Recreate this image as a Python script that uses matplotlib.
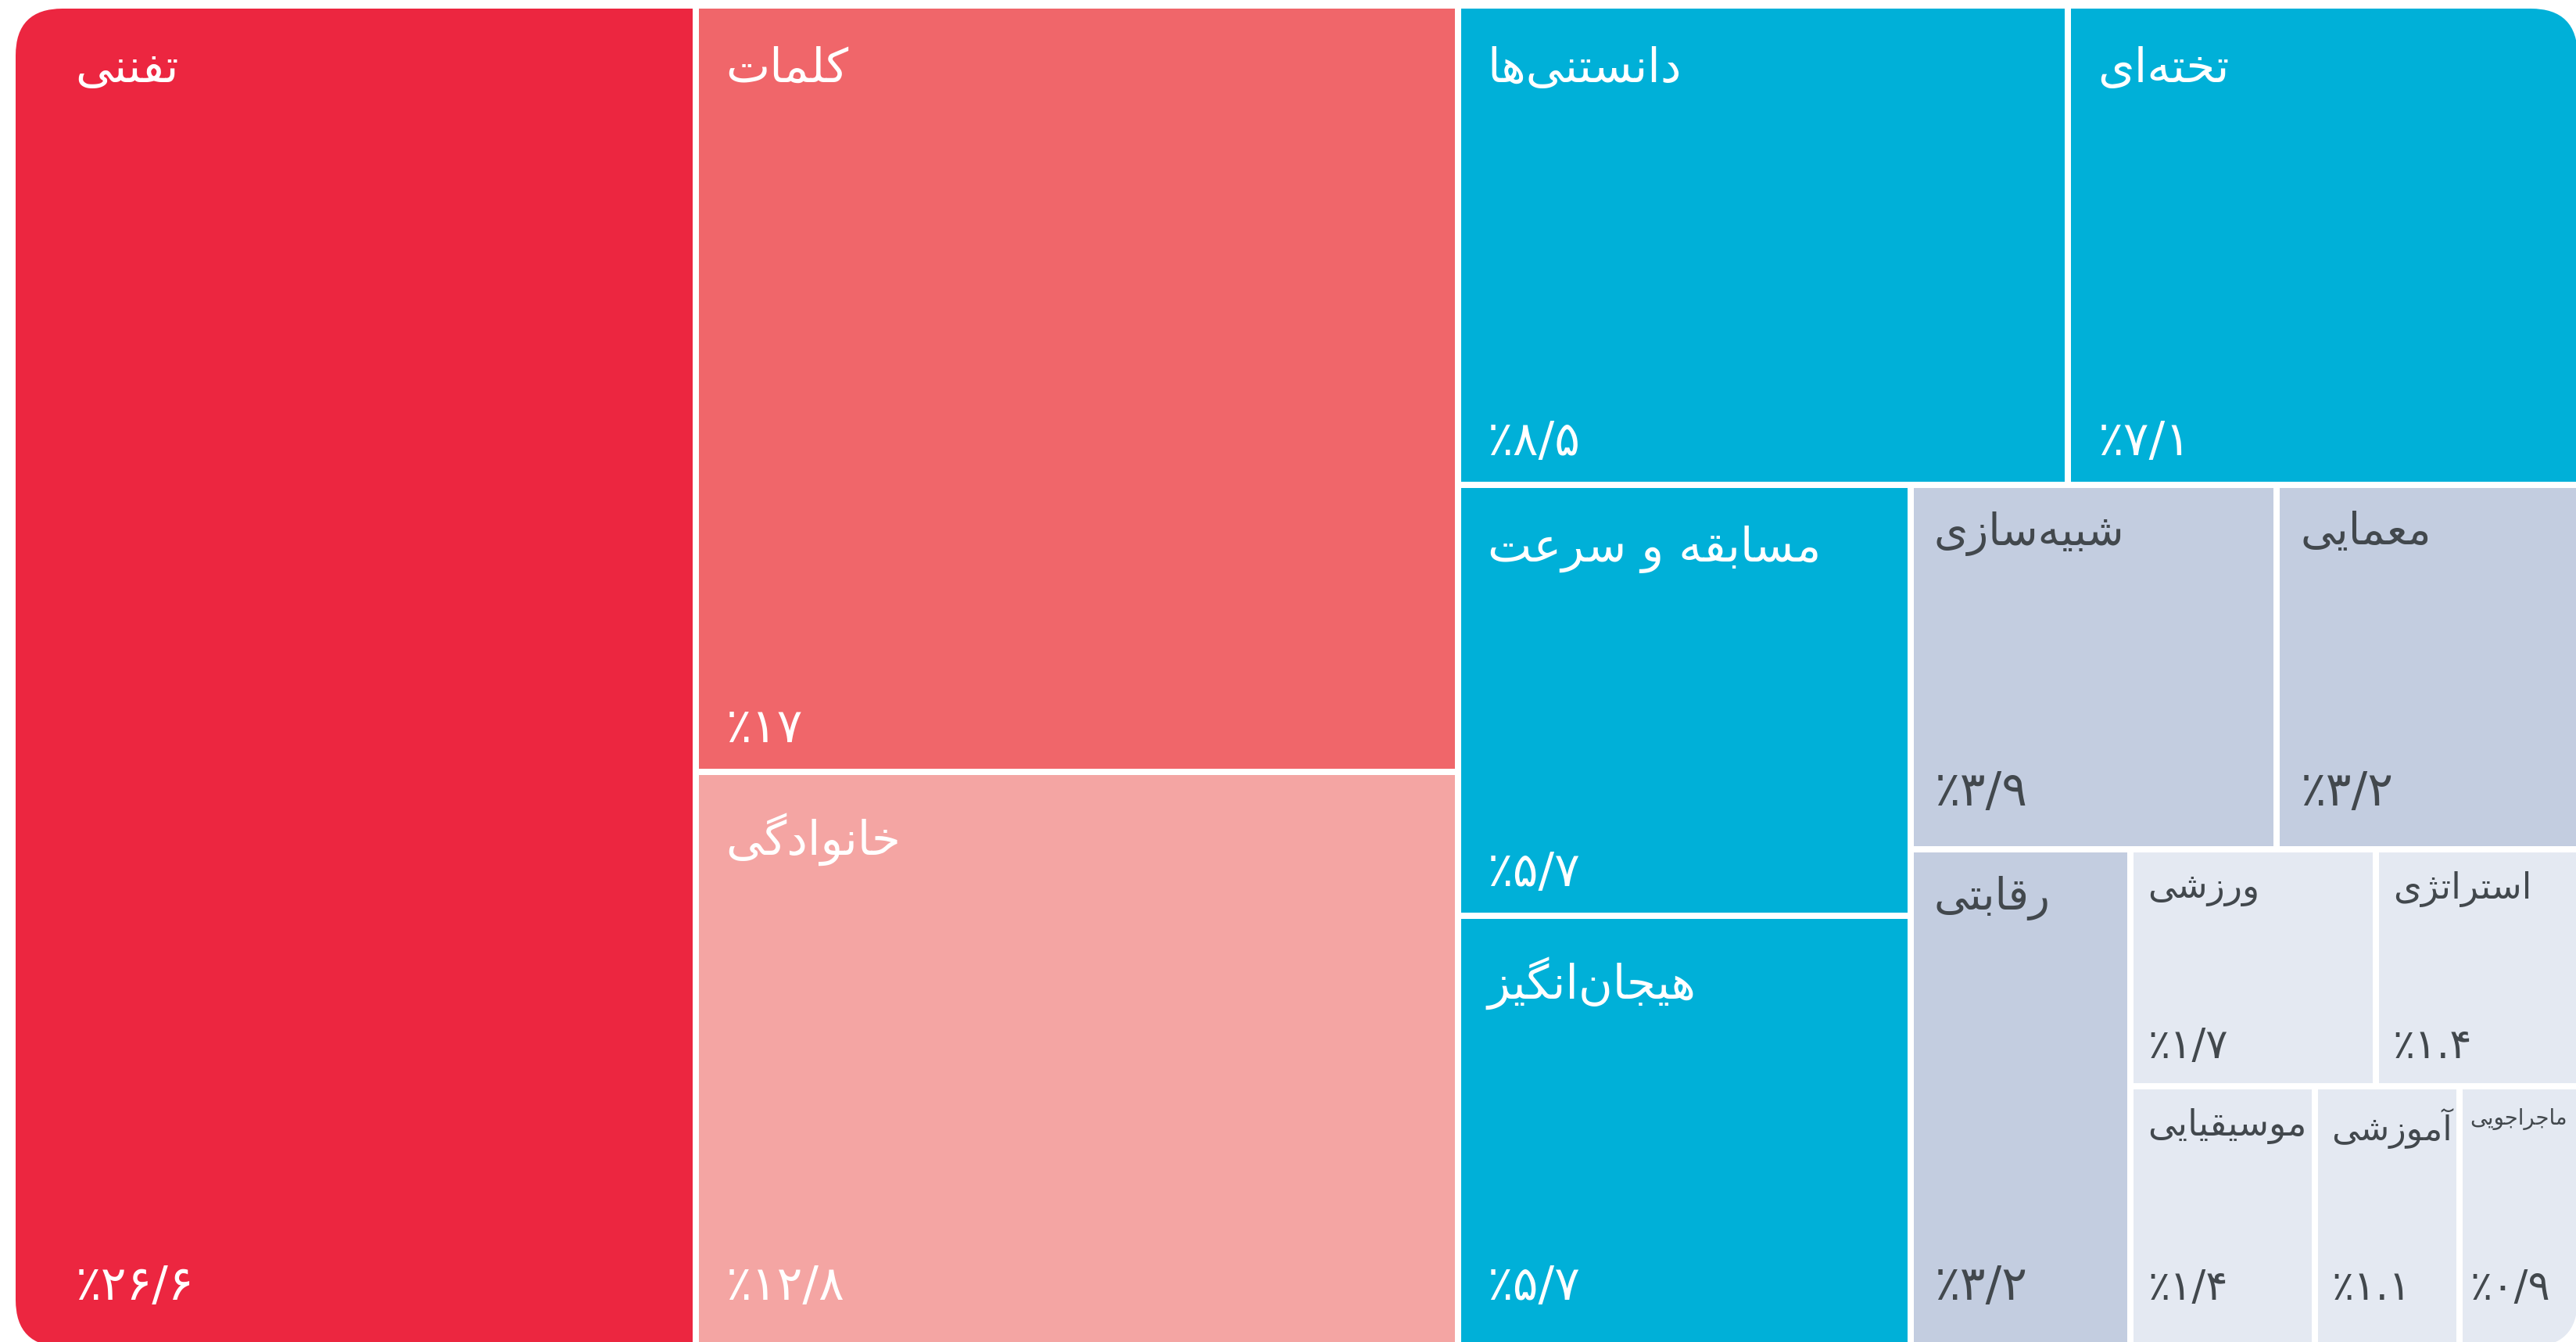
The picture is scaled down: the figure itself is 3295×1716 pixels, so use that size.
import matplotlib
matplotlib.use("Agg")
import matplotlib.pyplot as plt
from matplotlib.patches import Rectangle, FancyBboxPatch

# ---- data -------------------------------------------------------------
categories = [
    "تفننی", "کلمات", "خانوادگی", "دانستنی‌ها", "تخته‌ای",
    "مسابقه و سرعت", "هیجان‌انگیز", "شبیه‌سازی", "معمایی", "رقابتی",
    "ورزشی", "استراتژی", "موسیقیایی", "آموزشی", "ماجراجویی",
]
shares = [26.6, 17, 12.8, 8.5, 7.1, 5.7, 5.7, 3.9, 3.2, 3.2, 1.7, 1.4, 1.4, 1.1, 0.9]
decimal_marks = ["/", "/", "/", "/", "/", "/", "/", "/", "/", "/", "/", ".", "/", ".", "/"]
# how many tiles go into each successive strip of the treemap
strip_sizes = [1, 2, 2, 2, 2, 1, 2, 1, 1, 1]

# ---- style ------------------------------------------------------------
W, H = 3295, 1716
BOX = (20, 11, 3297, 1722)      # x0, y0, x1, y1 of the rounded frame (pixels)
CORNER = 60
GAP = 8

def tile_color(v, i):
    if i == 0:
        return "#EC2640"
    if i == 1:
        return "#F0666A"
    if i == 2:
        return "#F4A5A3"
    if v >= 5:
        return "#00B0D8"
    if v >= 3:
        return "#C3CDE0"
    return "#E4E9F2"


def tier_style(v):
    """title size, percent size, left pad, top pad, bottom pad"""
    if v >= 5:
        return 43, 44, 34, 48, 34
    if v >= 3:
        return 40, 44, 26, 30, 52
    if v >= 1:
        return 33, 38, 18, 24, 32
    return 33, 38, 10, 24, 32

# ---- Persian shaping (matplotlib draws glyphs left to right, unshaped) --
FORMS = {
    '\u0627': ('\uFE8D', '\uFE8E', None, None),
    '\u0622': ('\uFE81', '\uFE82', None, None),
    '\u0628': ('\uFE8F', '\uFE90', '\uFE91', '\uFE92'),
    '\u067E': ('\uFB56', '\uFB57', '\uFB58', '\uFB59'),
    '\u062A': ('\uFE95', '\uFE96', '\uFE97', '\uFE98'),
    '\u062B': ('\uFE99', '\uFE9A', '\uFE9B', '\uFE9C'),
    '\u062C': ('\uFE9D', '\uFE9E', '\uFE9F', '\uFEA0'),
    '\u0686': ('\uFB7A', '\uFB7B', '\uFB7C', '\uFB7D'),
    '\u062D': ('\uFEA1', '\uFEA2', '\uFEA3', '\uFEA4'),
    '\u062E': ('\uFEA5', '\uFEA6', '\uFEA7', '\uFEA8'),
    '\u062F': ('\uFEA9', '\uFEAA', None, None),
    '\u0630': ('\uFEAB', '\uFEAC', None, None),
    '\u0631': ('\uFEAD', '\uFEAE', None, None),
    '\u0632': ('\uFEAF', '\uFEB0', None, None),
    '\u0698': ('\uFB8A', '\uFB8B', None, None),
    '\u0633': ('\uFEB1', '\uFEB2', '\uFEB3', '\uFEB4'),
    '\u0634': ('\uFEB5', '\uFEB6', '\uFEB7', '\uFEB8'),
    '\u0635': ('\uFEB9', '\uFEBA', '\uFEBB', '\uFEBC'),
    '\u0636': ('\uFEBD', '\uFEBE', '\uFEBF', '\uFEC0'),
    '\u0637': ('\uFEC1', '\uFEC2', '\uFEC3', '\uFEC4'),
    '\u0638': ('\uFEC5', '\uFEC6', '\uFEC7', '\uFEC8'),
    '\u0639': ('\uFEC9', '\uFECA', '\uFECB', '\uFECC'),
    '\u063A': ('\uFECD', '\uFECE', '\uFECF', '\uFED0'),
    '\u0641': ('\uFED1', '\uFED2', '\uFED3', '\uFED4'),
    '\u0642': ('\uFED5', '\uFED6', '\uFED7', '\uFED8'),
    '\u06A9': ('\uFB8E', '\uFB8F', '\uFB90', '\uFB91'),
    '\u06AF': ('\uFB92', '\uFB93', '\uFB94', '\uFB95'),
    '\u0644': ('\uFEDD', '\uFEDE', '\uFEDF', '\uFEE0'),
    '\u0645': ('\uFEE1', '\uFEE2', '\uFEE3', '\uFEE4'),
    '\u0646': ('\uFEE5', '\uFEE6', '\uFEE7', '\uFEE8'),
    '\u0647': ('\uFEE9', '\uFEEA', '\uFEEB', '\uFEEC'),
    '\u0648': ('\uFEED', '\uFEEE', None, None),
    '\u06CC': ('\uFBFC', '\uFBFD', '\uFBFE', '\uFBFF'),
    '\u0626': ('\uFE89', '\uFE8A', '\uFE8B', '\uFE8C'),
}


def shape_rtl(text):
    out = []
    for i, ch in enumerate(text):
        if ch not in FORMS:
            if ch != '\u200c':
                out.append(ch)
            continue
        prev = text[i - 1] if i > 0 else ''
        nxt = text[i + 1] if i + 1 < len(text) else ''
        join_prev = prev in FORMS and FORMS[prev][2] is not None
        join_next = FORMS[ch][2] is not None and nxt in FORMS
        iso, fin, ini, med = FORMS[ch]
        if join_prev and join_next:
            out.append(med)
        elif join_prev:
            out.append(fin)
        elif join_next:
            out.append(ini)
        else:
            out.append(iso)
    return ''.join(reversed(out))


PERSIAN_DIGITS = str.maketrans("0123456789", "۰۱۲۳۴۵۶۷۸۹")


def pct_label(v, mark):
    s = f"{v:g}".replace(".", mark)
    return "٪" + s.translate(PERSIAN_DIGITS)


# ---- strip treemap layout ---------------------------------------------
def strip_treemap(vals, x, y, w, h, sizes):
    rects = []
    i = 0
    for n in sizes:
        chunk = vals[i:i + n]
        s = sum(chunk)
        frac = s / sum(vals[i:])
        if w >= h:
            cw = w * frac
            yy = y
            for v in chunk:
                hh = h * v / s
                rects.append((x, yy, cw, hh))
                yy += hh
            x += cw
            w -= cw
        else:
            rh = h * frac
            xx = x
            for v in chunk:
                ww = w * v / s
                rects.append((xx, y, ww, rh))
                xx += ww
            y += rh
            h -= rh
        i += n
    return rects


# ---- draw ---------------------------------------------------------------
fig = plt.figure(figsize=(W / 100, H / 100), dpi=100)
fig.patch.set_facecolor("white")
ax = fig.add_axes([0, 0, 1, 1])
ax.set_xlim(0, W)
ax.set_ylim(H, 0)
ax.axis("off")
renderer = fig.canvas.get_renderer()

bx0, by0, bx1, by1 = BOX
frame = FancyBboxPatch((bx0, by0), bx1 - bx0, by1 - by0,
                       boxstyle=f"round,pad=0,rounding_size={CORNER}",
                       facecolor="none", edgecolor="none")
ax.add_patch(frame)

rects = strip_treemap(shares, bx0, by0, bx1 - bx0, by1 - by0, strip_sizes)
FONT = ["DejaVu Sans"]
VISIBLE_RIGHT = W - 6

for i, (name, v, (x, y, w, h)) in enumerate(zip(categories, shares, rects)):
    x0 = x + (GAP / 2 if x > bx0 + 1 else 0)
    y0 = y + (GAP / 2 if y > by0 + 1 else 0)
    x1 = x + w - (GAP / 2 if x + w < bx1 - 1 else 0)
    y1 = y + h - (GAP / 2 if y + h < by1 - 1 else 0)
    r = Rectangle((x0, y0), x1 - x0, y1 - y0, facecolor=tile_color(v, i),
                  edgecolor="none")
    ax.add_patch(r)
    r.set_clip_path(frame)

    title_fs, pct_fs, pad_x, pad_top, pad_bot = tier_style(v)
    txt_color = "white" if v >= 5 else "#42484D"
    if x0 <= bx0 + 1:
        pad_x += 42
    if y1 >= by1 - 1:
        pad_bot = 60

    t = ax.text(x0 + pad_x, y0 + pad_top, shape_rtl(name), family=FONT,
                fontsize=title_fs, color=txt_color, ha="left", va="top")
    # shrink a title that would not fit inside its tile
    avail = min(x1, VISIBLE_RIGHT) - (x0 + pad_x) - 4
    tw = t.get_window_extent(renderer).width
    if tw > avail:
        t.set_fontsize(title_fs * avail / tw)

    ax.text(x0 + pad_x, y1 - pad_bot, pct_label(v, decimal_marks[i]),
            family=FONT, fontsize=pct_fs, color=txt_color,
            ha="left", va="baseline")

fig.savefig("out.png", dpi=100, facecolor="white")
